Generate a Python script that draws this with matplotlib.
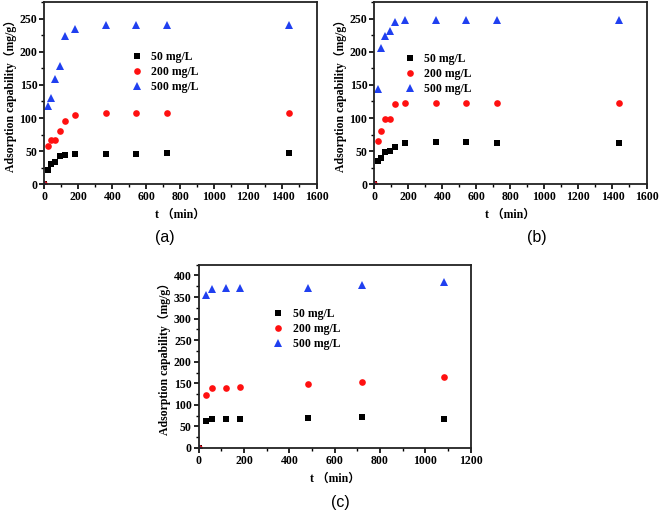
#!/usr/bin/env python3
"""三种初始浓度下的吸附动力学散点图 (a)(b)(c)"""
import matplotlib
matplotlib.use('Agg')
import matplotlib.pyplot as plt
from matplotlib.ticker import MultipleLocator

plt.rcParams['font.family'] = ['Liberation Serif', 'Noto Sans CJK SC']
plt.rcParams['font.weight'] = 'bold'

labels = ['50 mg/L', '200 mg/L', '500 mg/L']

# 面板 (a)
t_a = [0, 20, 40, 60, 90, 120, 180, 360, 540, 720, 1440]
a_50 = [0, 22, 30, 33, 43, 44, 45, 45, 45.5, 46.5, 47.5]
a_200 = [0, 57.5, 66.5, 67, 80, 96, 104, 107, 107, 107, 107]
a_500 = [0, 118, 129.5, 158.5, 178, 223, 235, 240, 240, 240, 240]

# 面板 (b)
t_b = [0, 20, 40, 60, 90, 120, 180, 360, 540, 720, 1440]
b_50 = [0, 35, 40, 48.5, 50, 56.5, 62, 63.5, 63.5, 62, 63]
b_200 = [0, 65.5, 81, 98, 98, 121.5, 122, 122.5, 122, 122.5, 122]
b_500 = [0, 144.5, 205.5, 223, 231.5, 245.5, 247.5, 247.5, 247.5, 247.5, 247.5]

# 面板 (c)
t_c = [0, 30, 60, 120, 180, 480, 720, 1080]
c_50 = [0, 63.5, 66.5, 66.5, 66.5, 69.5, 71, 68]
c_200 = [0, 123, 138, 139, 141.5, 149.5, 154, 165.5]
c_500 = [0, 354, 369, 370.5, 370.5, 372, 377, 385]

W, H = 661, 516
fig = plt.figure(figsize=(W / 100, H / 100), dpi=100)


def px_axes(left, right, top, bottom):
    return fig.add_axes([left / W, 1 - bottom / H, (right - left) / W, (bottom - top) / H])


def draw_panel(ax, t, s50, s200, s500, xmax, xmaj, ymax, ymaj, leg_pos):
    ax.plot(t, s50, 's', color='black', markersize=4.3, mew=0, label=labels[0])
    ax.plot(t, s200, 'o', color='#ff1010', markersize=4.8, mew=0, label=labels[1])
    ax.plot(t, s500, '^', color='#2040f0', markersize=5.6, mew=0, label=labels[2])
    ax.set_xlim(0, xmax)
    ax.set_ylim(0, ymax)
    ax.xaxis.set_major_locator(MultipleLocator(xmaj))
    ax.xaxis.set_minor_locator(MultipleLocator(xmaj / 2))
    ax.yaxis.set_major_locator(MultipleLocator(ymaj))
    ax.yaxis.set_minor_locator(MultipleLocator(ymaj / 2))
    ax.tick_params(which='major', direction='out', length=3.5, width=1.2, labelsize=8.5, pad=1.5)
    ax.tick_params(which='minor', direction='out', length=2, width=1)
    for sp in ax.spines.values():
        sp.set_linewidth(1.3)
        sp.set_color('#222222')
    ax.set_xlabel('t （min）', fontsize=8.5, fontweight='bold', labelpad=4)
    ax.set_ylabel('Adsorption capability（mg/g）', fontsize=8.5, fontweight='bold', labelpad=2)
    ax.legend(loc='upper left', bbox_to_anchor=leg_pos, frameon=False,
              handlelength=0.8, handletextpad=0.8, labelspacing=0.25, borderpad=0,
              borderaxespad=0, prop={'weight': 'bold', 'size': 8.5})


ax_a = px_axes(44.3, 316.5, 2, 184.3)
draw_panel(ax_a, t_a, a_50, a_200, a_500, 1600, 200, 275, 50, (0.324, 0.73))

ax_b = px_axes(374.3, 646.5, 2, 184.3)
draw_panel(ax_b, t_b, b_50, b_200, b_500, 1600, 200, 275, 50, (0.115, 0.72))

ax_c = px_axes(198.7, 470.7, 264.7, 448)
draw_panel(ax_c, t_c, c_50, c_200, c_500, 1200, 200, 425, 50, (0.276, 0.762))

# 子图编号
fig.text(165 / W, 1 - 238 / H, '(a)', fontsize=11.5, family='Liberation Sans',
         fontweight='normal', ha='center', va='center')
fig.text(537 / W, 1 - 238 / H, '(b)', fontsize=11.5, family='Liberation Sans',
         fontweight='normal', ha='center', va='center')
fig.text(340 / W, 1 - 503 / H, '(c)', fontsize=11.5, family='Liberation Sans',
         fontweight='normal', ha='center', va='center')

fig.savefig('out.png', dpi=100, facecolor='white')
